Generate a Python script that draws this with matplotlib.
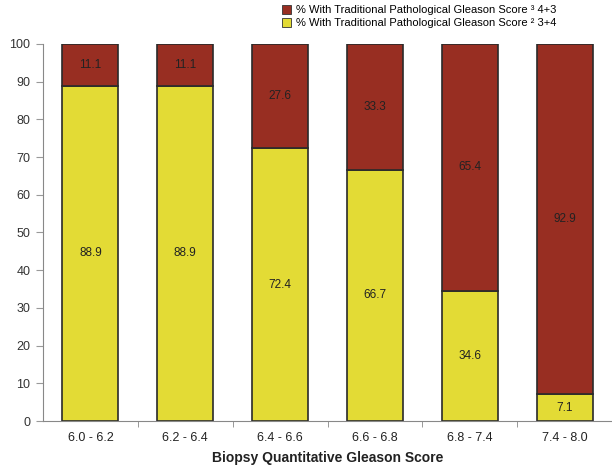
import numpy as np
import matplotlib.pyplot as plt
from matplotlib.patches import Patch

# Biopsy score ranges and share of cases by pathological Gleason score
categories = ['6.0 - 6.2', '6.2 - 6.4', '6.4 - 6.6', '6.6 - 6.8', '6.8 - 7.4', '7.4 - 8.0']
pct_le_34 = [88.9, 88.9, 72.4, 66.7, 34.6, 7.1]
pct_ge_43 = [11.1, 11.1, 27.6, 33.3, 65.4, 92.9]

legend_ge = '% With Traditional Pathological Gleason Score \u00b3 4+3'
legend_le = '% With Traditional Pathological Gleason Score \u00b2 3+4'

yellow = '#E3DB35'
red = '#982E22'

plt.rcParams['font.family'] = ['Liberation Sans', 'DejaVu Sans']

fig = plt.figure(figsize=(6.12, 4.67), dpi=100)
ax = fig.add_axes([0.0703, 0.0985, 0.9297, 0.8073])

x = np.arange(len(categories))
w = 0.59
ax.bar(x, pct_le_34, width=w, color=yellow, edgecolor='#2a2a2a', linewidth=1.2)
ax.bar(x, pct_ge_43, width=w, bottom=pct_le_34, color=red, edgecolor='#2a2a2a', linewidth=1.2)

for i in range(len(categories)):
    ax.text(x[i], pct_le_34[i] / 2, f'{pct_le_34[i]:.1f}', ha='center', va='center',
            fontsize=8.5, color='#222222')
    ax.text(x[i], pct_le_34[i] + pct_ge_43[i] / 2, f'{pct_ge_43[i]:.1f}', ha='center',
            va='center', fontsize=8.5, color='#222222')

ax.set_xlim(-0.5, len(categories) - 0.5)
ax.set_ylim(0, 100)
ax.set_yticks(np.arange(0, 101, 10))
ax.set_xticks(x)
ax.set_xticklabels(categories)
ax.set_xticks(np.arange(0.5, len(categories) - 0.5, 1), minor=True)
ax.tick_params(axis='x', which='major', length=0, pad=8, labelsize=9, labelcolor='#222222')
ax.tick_params(axis='x', which='minor', length=4, color='#888888', direction='out')
ax.tick_params(axis='y', length=5, color='#999999', pad=4, labelsize=9, labelcolor='#333333')

for s in ['top', 'right']:
    ax.spines[s].set_visible(False)
for s in ['left', 'bottom']:
    ax.spines[s].set_color('#888888')

ax.set_xlabel('Biopsy Quantitative Gleason Score', fontsize=10, fontweight='bold',
              color='#222222', labelpad=5)

handles = [Patch(facecolor=red, edgecolor='#333333', linewidth=0.6),
           Patch(facecolor=yellow, edgecolor='#333333', linewidth=0.6)]
fig.legend(handles, [legend_ge, legend_le], loc='upper center', bbox_to_anchor=(0.685, 1.01),
           frameon=False, fontsize=8, handlelength=0.8, handleheight=0.8,
           handletextpad=0.5, labelspacing=0.25)

fig.savefig('out.png', dpi=100)
